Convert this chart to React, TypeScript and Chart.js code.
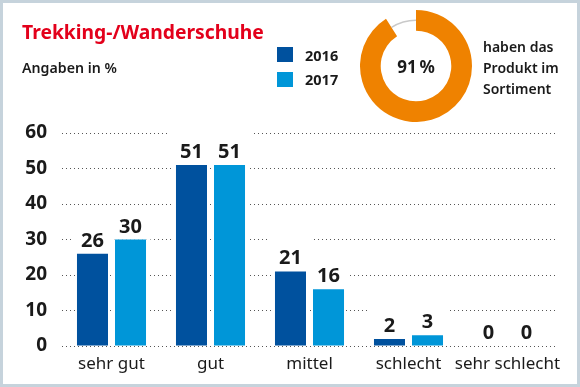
import React, { useEffect, useRef } from 'react';
import { Chart, registerables } from 'chart.js';

Chart.register(...registerables);

const categories = ['sehr gut', 'gut', 'mittel', 'schlecht', 'sehr schlecht'];
const years = ['2016', '2017'];
const values2016 = [26, 51, 21, 2, 0];
const values2017 = [30, 51, 16, 3, 0];
const yMin = 0;
const yMax = 60;
const yStep = 10;
const sharePercent = 91;

const FONT = "'Noto Sans', sans-serif";
const DARK = '#00519e';
const LIGHT = '#0096d8';
const ORANGE = '#ef8200';
const TEXT = '#1a1a1a';

const barLabelPlugin = {
  id: 'barLabels',
  beforeDatasetsDraw(chart: any) {
    const ctx = chart.ctx;
    const base = chart.scales.y.getPixelForValue(0);
    ctx.save();
    ctx.fillStyle = '#ffffff';
    chart.data.datasets.forEach((_ds: any, i: number) => {
      chart.getDatasetMeta(i).data.forEach((bar: any) => {
        const p = bar.getProps(['x', 'y', 'width'], true);
        const l = p.x - p.width / 2;
        ctx.fillRect(l - 6, p.y - 33, p.width + 12, 33);
        ctx.fillRect(l - 2, p.y, p.width + 4, base - 1 - p.y);
      });
    });
    ctx.restore();
  },
  afterDatasetsDraw(chart: any) {
    const ctx = chart.ctx;
    ctx.save();
    ctx.fillStyle = TEXT;
    ctx.font = `bold 20px ${FONT}`;
    ctx.textAlign = 'center';
    ctx.textBaseline = 'alphabetic';
    chart.data.datasets.forEach((ds: any, i: number) => {
      chart.getDatasetMeta(i).data.forEach((bar: any, j: number) => {
        const p = bar.getProps(['x', 'y'], true);
        ctx.fillText(String(ds.data[j]), p.x, p.y - 7);
      });
    });
    ctx.restore();
  },
};

const restArcPlugin = {
  id: 'restArc',
  beforeDatasetsDraw(chart: any) {
    const arc = chart.getDatasetMeta(0).data[0];
    if (!arc) return;
    const p = arc.getProps(['x', 'y', 'innerRadius', 'outerRadius'], true);
    const r = (p.innerRadius + p.outerRadius) / 2;
    const ctx = chart.ctx;
    ctx.save();
    ctx.strokeStyle = '#c9c9c9';
    ctx.lineWidth = 1.5;
    ctx.beginPath();
    const start = -Math.PI / 2 + (sharePercent / 100) * Math.PI * 2;
    ctx.arc(p.x, p.y, r, start, Math.PI * 1.5);
    ctx.stroke();
    ctx.restore();
  },
};

export default function App() {
  const barRef = useRef<HTMLCanvasElement>(null);
  const donutRef = useRef<HTMLCanvasElement>(null);

  useEffect(() => {
    document.body.style.margin = '0';
    const bar = new Chart(barRef.current!, {
      type: 'bar',
      data: {
        labels: categories,
        datasets: [
          { label: years[0], data: values2016, backgroundColor: DARK, borderWidth: 0 },
          { label: years[1], data: values2017, backgroundColor: LIGHT, borderWidth: 0 },
        ],
      },
      options: {
        animation: false,
        responsive: false,
        maintainAspectRatio: false,
        categoryPercentage: 0.768,
        barPercentage: 0.816,
        layout: { padding: { left: 0, right: 23, top: 133, bottom: 0 } },
        plugins: { legend: { display: false }, tooltip: { enabled: false } },
        scales: {
          x: {
            grid: { display: false, drawTicks: false },
            border: { display: false },
            ticks: { color: TEXT, font: { family: FONT, size: 17 }, padding: 8, maxRotation: 0, minRotation: 0, autoSkip: false },
            afterFit: (s: any) => { s.height = 41; },
          },
          y: {
            min: yMin,
            max: yMax,
            ticks: { stepSize: yStep, color: TEXT, font: { family: FONT, size: 19, weight: 'bold' }, padding: 15 },
            grid: { color: '#555', lineWidth: 1, drawTicks: false },
            border: { display: false, dash: [1, 3] },
            afterFit: (s: any) => { s.width = 62; },
          },
        },
      },
      plugins: [barLabelPlugin],
    } as any);

    const donut = new Chart(donutRef.current!, {
      type: 'doughnut',
      data: {
        labels: ['Im Sortiment', 'Nicht im Sortiment'],
        datasets: [{ data: [sharePercent, 100 - sharePercent], backgroundColor: [ORANGE, 'rgba(0,0,0,0)'], borderWidth: 0 }],
      },
      options: {
        animation: false,
        responsive: false,
        maintainAspectRatio: false,
        cutout: '63%',
        layout: { padding: 0 },
        plugins: { legend: { display: false }, tooltip: { enabled: false } },
      },
      plugins: [restArcPlugin],
    } as any);

    return () => { bar.destroy(); donut.destroy(); };
  }, []);

  const abs = (o: any): React.CSSProperties => ({ position: 'absolute', whiteSpace: 'nowrap', fontFamily: FONT, color: TEXT, ...o });

  return (
    <div style={{ position: 'relative', width: 580, height: 387, background: '#fff', boxShadow: 'inset 0 0 0 3px #c6d3dc', overflow: 'hidden' }}>
      <canvas ref={barRef} width={580} height={387} style={{ position: 'absolute', left: 0, top: 0 }} />
      <canvas ref={donutRef} width={112} height={112} style={{ position: 'absolute', left: 360, top: 10 }} />
      <div style={abs({ left: 22, top: 19, fontSize: 19.3, fontWeight: 700, color: '#e3001b', lineHeight: '26px' })}>Trekking-/Wanderschuhe</div>
      <div style={abs({ left: 22, top: 59, fontSize: 14.2, fontWeight: 600, lineHeight: '18px' })}>Angaben in %</div>
      <div style={abs({ left: 277, top: 47, width: 16, height: 15, background: DARK })} />
      <div style={abs({ left: 277, top: 72, width: 16, height: 15, background: LIGHT })} />
      <div style={abs({ left: 305, top: 45, fontSize: 14.5, fontWeight: 700, lineHeight: '20px' })}>{years[0]}</div>
      <div style={abs({ left: 305, top: 69, fontSize: 14.5, fontWeight: 700, lineHeight: '20px' })}>{years[1]}</div>
      <div style={abs({ left: 376, top: 55, width: 80, textAlign: 'center', fontSize: 17, fontWeight: 700, lineHeight: '24px' })}>{sharePercent}&thinsp;%</div>
      <div style={abs({ left: 483, top: 36, fontSize: 14, fontWeight: 600, lineHeight: '21px' })}>haben das<br />Produkt im<br />Sortiment</div>
    </div>
  );
}
